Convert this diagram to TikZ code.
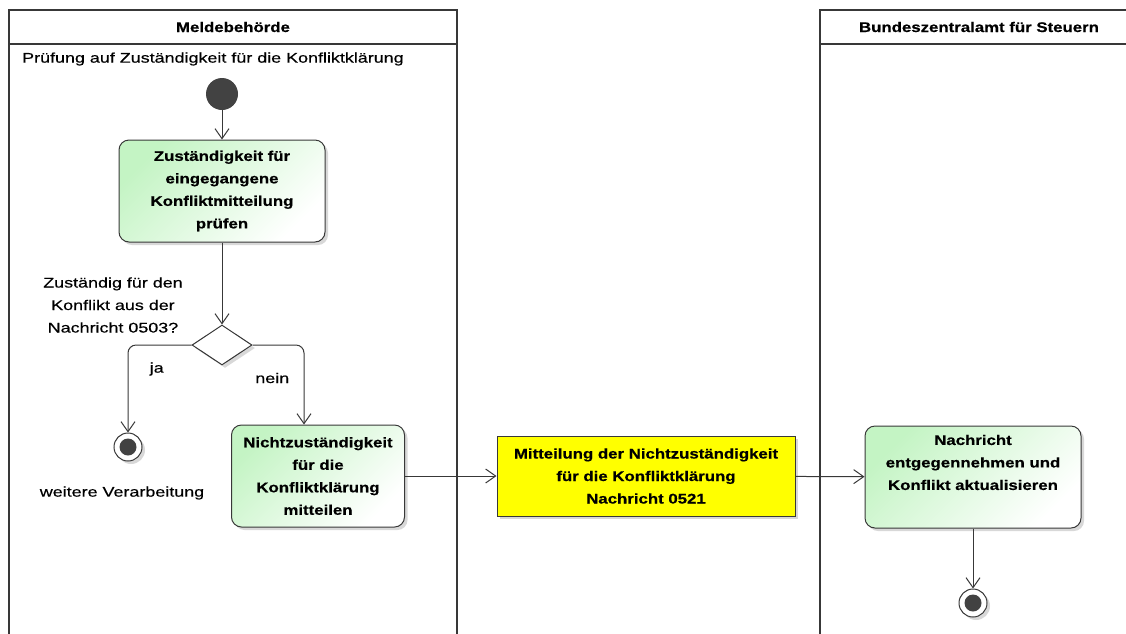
\documentclass[tikz,border=0pt]{standalone}
\usepackage{fontspec}
\setmainfont{Liberation Sans}[FakeStretch=1.28,FakeBold=0.4,BoldFeatures={FakeStretch=1.2,FakeBold=0.5}]
\usepackage{tikz}
\usetikzlibrary{arrows.meta,positioning,shapes.geometric,shadows}

\definecolor{laneline}{HTML}{383838}
\definecolor{actgreen}{HTML}{C4F4C4}
\definecolor{objyellow}{HTML}{FFFF00}
\definecolor{dotgray}{HTML}{424242}

\begin{document}
\begin{tikzpicture}[
    x=1pt, y=-1pt,
    txt/.style={font=\fontsize{14pt}{22.5pt}\selectfont, inner sep=0pt, align=center},
    lanehead/.style={txt, font=\fontsize{14pt}{22.5pt}\selectfont\bfseries},
    lane/.style={draw=laneline, line width=2.2pt},
    shadowed/.style={drop shadow={shadow xshift=3pt, shadow yshift=-3pt, fill=black!30}},
    action/.style={draw=laneline, line width=1pt, rounded corners=10pt, align=center,
      font=\fontsize{14pt}{22.5pt}\selectfont\bfseries, inner sep=0pt,
      top color=actgreen, bottom color=white, shading angle=45, shadowed, minimum height=102pt},
    object/.style={draw=laneline, line width=1pt, fill=objyellow, align=center,
      font=\fontsize{14pt}{22.5pt}\selectfont\bfseries, inner sep=0pt, shadowed,
      minimum width=298pt, minimum height=80pt},
    decision/.style={diamond, draw=laneline, line width=1pt, fill=white, shadowed,
      aspect=1.5, minimum width=60pt, minimum height=40pt, inner sep=0pt},
    startdot/.style={circle, fill=dotgray, minimum size=32pt, inner sep=0pt},
    enddot/.style={circle, draw=laneline, line width=1pt, fill=white, shadowed,
      minimum size=28pt, inner sep=0pt,
      path picture={\fill[dotgray] (path picture bounding box.center) circle (8.5pt);}},
    flow/.style={draw=laneline, line width=1pt, -{Straight Barb[length=10pt, width=14pt]}}
  ]
  \useasboundingbox (0,0) rectangle (1126,633);

  % swimlanes
  \draw[lane] (9,640) -- (9,10) -- (457,10) -- (457,640);
  \draw[lane] (9,44) -- (457,44);
  \draw[lane] (820,640) -- (820,10) -- (1130,10);
  \draw[lane] (820,44) -- (1130,44);
  \node[lanehead] (melde) at (233,27) {Meldebehörde};
  \node[lanehead] (bzst) at (979,27) {Bundeszentralamt für Steuern};
  \node[txt, anchor=west] (phase) at (22,59) {Prüfung auf Zuständigkeit für die Konfliktklärung};

  % Meldebehoerde
  \node[startdot] (start) at (222,94) {};
  \node[action, minimum width=206pt] (pruefen) at (222,191)
    {Zuständigkeit für\\eingegangene\\Konfliktmitteilung\\prüfen};
  \node[decision] (zustaendig) at (222,345) {};
  \node[txt] (frage) at (113,305) {Zuständig für den\\Konflikt aus der\\Nachricht 0503?};
  \node[enddot] (endeja) at (128,447) {};
  \node[txt] (weiter) at (122,493) {weitere Verarbeitung};
  \node[action, minimum width=173pt] (mitteilen) at (318,476)
    {Nichtzuständigkeit\\für die\\Konfliktklärung\\mitteilen};

  % Nachricht
  \node[object] (msg) at (646,476)
    {Mitteilung der Nichtzuständigkeit\\für die Konfliktklärung\\Nachricht 0521};

  % BZSt
  \node[action, minimum width=216pt] (aktualisieren) at (973,477)
    {Nachricht\\entgegennehmen und\\Konflikt aktualisieren\\\strut};
  \node[enddot] (ende) at (973,603) {};

  % Kanten
  \draw[flow] (start) -- (pruefen);
  \draw[flow] (pruefen) -- (zustaendig);
  \draw[flow, rounded corners=8pt] (zustaendig.west) -| node[txt, pos=0.25, xshift=-3pt, yshift=-24pt] (ja) {ja} (endeja);
  \draw[flow, rounded corners=8pt] (zustaendig.east) -| node[txt, pos=0.25, xshift=-6pt, yshift=-33pt] (nein) {nein} ([xshift=-14pt]mitteilen.north);
  \draw[flow] (mitteilen) -- (msg);
  \draw[flow] (msg) -- (aktualisieren);
  \draw[flow] (aktualisieren) -- (ende);
\end{tikzpicture}
\end{document}
